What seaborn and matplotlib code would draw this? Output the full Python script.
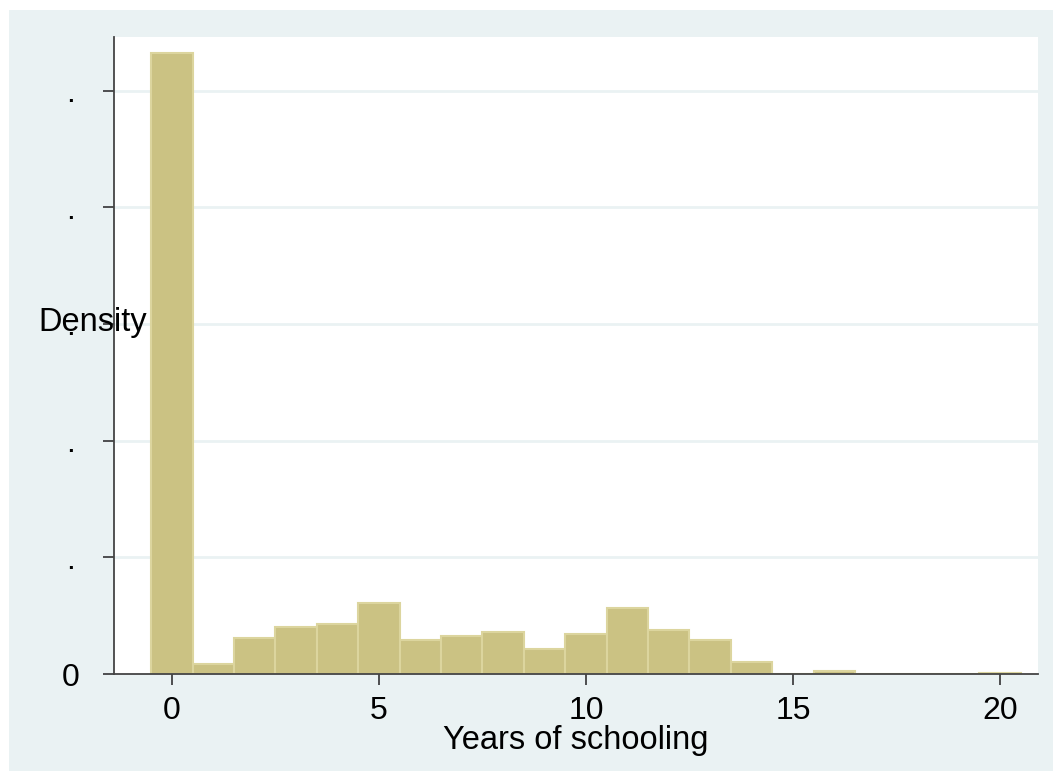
"""
Stata 스타일 히스토그램 — Years of schooling 밀도
"""
import numpy as np
import pandas as pd
import matplotlib
matplotlib.use('Agg')
import matplotlib.pyplot as plt
import seaborn as sns
from matplotlib.patches import Rectangle

sns.set_theme(style='white')
plt.rcParams['font.family'] = ['Liberation Sans', 'DejaVu Sans']

# 학교 교육 연수 (bin 중심) 와 밀도
years = list(range(0, 21))
density = [0.532, 0.0086, 0.031, 0.040, 0.043, 0.061, 0.029, 0.0326,
           0.036, 0.021, 0.034, 0.0566, 0.0377, 0.029, 0.010, 0.0,
           0.0023, 0.0, 0.0, 0.0, 0.0011]

y_ticks = [0, 0.1, 0.2, 0.3, 0.4, 0.5]
y_tick_labels = ['0', '.', '.', '.', '.', '.']
x_ticks = [0, 5, 10, 15, 20]

df = pd.DataFrame({'years': years, 'density': density})

BAR_FACE = '#CBC283'
BAR_EDGE = '#DCD59E'
BG = '#EAF2F3'

# 그림 전체는 연한 배경, 왼쪽/위쪽에만 흰 여백
fig = plt.figure(figsize=(10.53, 7.71), dpi=100, facecolor=BG)
fig.patches.append(Rectangle((0, 0), 9 / 1053, 1, transform=fig.transFigure,
                             facecolor='white', edgecolor='none', zorder=-10))
fig.patches.append(Rectangle((0, 1 - 10 / 771), 1, 10 / 771, transform=fig.transFigure,
                             facecolor='white', edgecolor='none', zorder=-10))
ax = fig.add_axes([114 / 1053, 97 / 771, (1038 - 114) / 1053, (674 - 37) / 771])
ax.set_facecolor('white')

sns.histplot(data=df, x='years', weights='density', discrete=True,
             stat='count', ax=ax, color=BAR_FACE, alpha=1,
             edgecolor=BAR_EDGE, linewidth=1.5, zorder=3)

ax.set_xlim(-1.40, 20.92)
ax.set_ylim(0, 0.5459)

# 가로 격자선
for yv in y_ticks[1:]:
    ax.axhline(yv, color=BG, lw=2, zorder=1)

ax.set_xticks(x_ticks)
ax.set_xticklabels([str(v) for v in x_ticks])
ax.set_yticks(y_ticks)
ax.set_yticklabels(y_tick_labels)
ax.tick_params(axis='x', length=8, width=1.2, color='#333333', pad=8,
               labelsize=23, labelcolor='black', bottom=True)
ax.tick_params(axis='y', length=8, width=1.2, color='#333333', pad=23,
               labelsize=23, labelcolor='black', left=True)
for lab in ax.get_yticklabels():
    lab.set_horizontalalignment('center')

for side in ['top', 'right']:
    ax.spines[side].set_visible(False)
for side in ['left', 'bottom']:
    ax.spines[side].set_color('#444444')
    ax.spines[side].set_linewidth(1.3)
    ax.spines[side].set_zorder(4)

ax.set_xlabel('Years of schooling', fontsize=23.5, color='black', labelpad=-1)
ax.set_ylabel('')
fig.text(38 / 1053, 1 - 322 / 771, 'Density', fontsize=23.5, color='black',
         ha='left', va='center', zorder=10)

plt.savefig('out.png', dpi=100, facecolor=fig.get_facecolor())
